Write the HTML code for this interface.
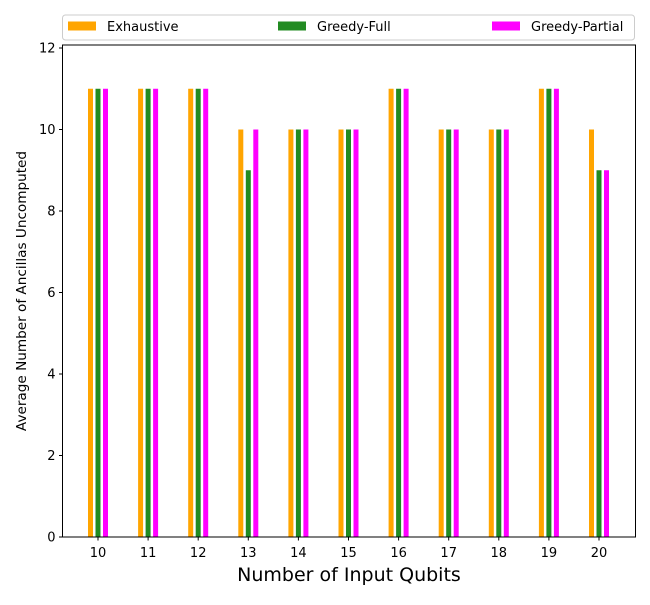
<!DOCTYPE html>
<html><head><meta charset="utf-8"><style>
body{margin:0;background:#fff;}
svg text{font-family:"DejaVu Sans","Liberation Sans",sans-serif;fill:#000;}
</style></head><body>
<svg id="chart" width="650" height="600">
</svg>
<script>
const categories=[10,11,12,13,14,15,16,17,18,19,20];
const exhaustive=[11,11,11,10,10,10,11,10,10,11,10];
const greedyFull=[11,11,11,9,10,10,11,10,10,11,9];
const greedyPartial=[11,11,11,10,10,10,11,10,10,11,9];
const yTicks=[0,2,4,6,8,10,12];
const seriesNames=["Exhaustive","Greedy-Full","Greedy-Partial"];

const NS="http://www.w3.org/2000/svg";
const svg=document.getElementById('chart');
const L=62.5,R=635.5,T=45,B=537;
function xs(c){return 98+(c-10)*50.1;}
function ys(v){return B-v*40.75;}
function mk(t,a,p){const e=document.createElementNS(NS,t);for(const k in a)e.setAttribute(k,a[k]);(p||svg).appendChild(e);return e;}
const colors=["#ffa500","#228b22","#ff00ff"];
const series=[exhaustive,greedyFull,greedyPartial];
const offs=[-7.5,0,7.5];
series.forEach((s,si)=>{
  const g=mk('g',{});
  
  
  s.forEach((v,i)=>{
    const r=mk('rect',{x:xs(categories[i])+offs[si]-2.5,y:ys(v),width:5,height:B-ys(v),fill:colors[si]},g);
    
    
  });
});
const frame=mk('rect',{x:L,y:T,width:R-L,height:B-T,fill:'none',stroke:'#000','stroke-width':1});


yTicks.forEach(v=>{
  mk('line',{x1:L-3.5,x2:L,y1:ys(v),y2:ys(v),stroke:'#000'});
  const t=mk('text',{x:L-7,y:ys(v)+4.5,'text-anchor':'end','font-size':13});
  t.textContent=v;
  
  
});
categories.forEach(c=>{
  mk('line',{x1:xs(c),x2:xs(c),y1:B,y2:B+3.5,stroke:'#000'});
  const t=mk('text',{x:xs(c),y:B+20,'text-anchor':'middle','font-size':13});
  t.textContent=c;
  
  
});
const xt=mk('text',{x:(L+R)/2,y:581,'text-anchor':'middle','font-size':19});
xt.textContent='Number of Input Qubits';


const yt=mk('text',{x:0,y:0,'text-anchor':'middle','font-size':13.6,transform:'translate(26,291) rotate(-90)'});
yt.textContent='Average Number of Ancillas Uncomputed';


const lg=mk('g',{});


mk('rect',{x:62.5,y:15,width:572,height:25,rx:3,fill:'#fff',stroke:'#ccc'},lg);
const lx=[68,278,492];
seriesNames.forEach((n,i)=>{
  mk('rect',{x:lx[i],y:21.5,width:28,height:9,fill:colors[i]},lg);
  const t=mk('text',{x:lx[i]+39,y:31,'font-size':13},lg);
  t.textContent=n;
  
  
});
</script>
</body></html>
